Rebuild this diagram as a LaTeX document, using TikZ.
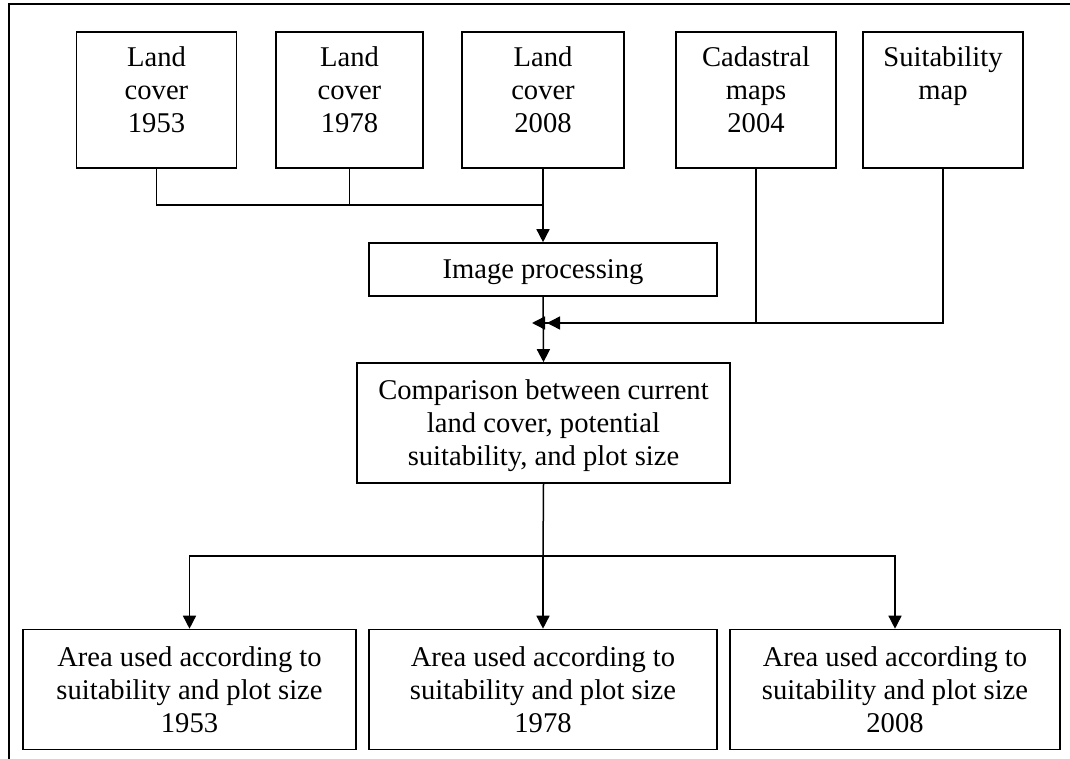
\documentclass[tikz,border=0pt]{standalone}
\usepackage{fontspec}
\setmainfont{Liberation Serif}
\usetikzlibrary{arrows.meta}
% line struts: uniform line boxes so the text sits at a fixed height in each box
\newcommand\midstrut{\rule[-7.5pt]{0pt}{33pt}}
\newcommand\lowstrut{\rule[-6.5pt]{0pt}{33pt}}
\newcommand\tsa{\rule[-12pt]{0pt}{33pt}}
\newcommand\tsb{\rule[-21pt]{0pt}{42pt}}
\begin{document}
\begin{tikzpicture}[x=1pt,y=-1pt,
  box/.style={draw, line width=1.6pt, inner sep=0pt, align=center,
    font=\fontsize{28.6}{33}\selectfont},
  link/.style={line width=1.5pt, line join=miter},
  arr/.style={line width=1.5pt, -{Triangle[length=13pt,width=13pt]}}]
\useasboundingbox (0,0) rectangle (1070,759);

% outer frame (top and left edges only)
\draw[line width=1.6pt] (1070,4) -- (9,4) -- (9,759);

% input data
\node[box, minimum width=160pt, minimum height=136pt] (lc1) at (156.5,100)
  {\tsa Land\\\tsa cover\\\tsb 1953};
\node[box, minimum width=147pt, minimum height=136pt] (lc2) at (349.5,100)
  {\tsa Land\\\tsa cover\\\tsb 1978};
\node[box, minimum width=162pt, minimum height=136pt] (lc3) at (543,100)
  {\tsa Land\\\tsa cover\\\tsb 2008};
\node[box, minimum width=160pt, minimum height=136pt] (cad) at (756,100)
  {\tsa Cadastral\\\tsa maps\\\tsb 2004};
\node[box, minimum width=160pt, minimum height=136pt] (suit) at (943,100)
  {\tsa Suitability\\\tsa map\\\tsb};

% processing steps
\node[box, minimum width=348pt, minimum height=53pt] (ip) at (543,269.5)
  {\midstrut Image processing};
\node[box, minimum width=373pt, minimum height=120pt] (cmp) at (543.5,423)
  {\midstrut Comparison between current\\\midstrut land cover, potential\\\midstrut suitability, and plot size};

% results
\node[box, minimum width=333pt, minimum height=120pt] (r1) at (189.5,689.5)
  {\lowstrut Area used according to\\\lowstrut suitability and plot size\\\lowstrut 1953};
\node[box, minimum width=348pt, minimum height=120pt] (r2) at (543,689.5)
  {\lowstrut Area used according to\\\lowstrut suitability and plot size\\\lowstrut 1978};
\node[box, minimum width=330pt, minimum height=120pt] (r3) at (895,689.5)
  {\lowstrut Area used according to\\\lowstrut suitability and plot size\\\lowstrut 2008};

% junction points
\coordinate (jn) at (543,205);
\coordinate (j1) at (547,323);
\coordinate (j2) at (532,323);
\coordinate (sp) at (543,556);

% land cover maps into image processing
\draw[link] (lc1.south) |- (jn);
\draw[link] (lc2.south) -- (lc2.south |- jn);
\draw[arr] (lc3.south) -- (ip.north);

% image processing, cadastre and suitability into the comparison
\draw[arr] (ip.south) -- (cmp.north);
\draw[arr] (cad.south) |- (j1);
\draw[arr] (suit.south) |- (j2);

% comparison out to the three results
\draw[link] (cmp.south) -- (sp);
\draw[arr] (sp) -| (r1.north);
\draw[arr] (sp) -- (r2.north);
\draw[arr] (sp) -| (r3.north);
\end{tikzpicture}
\end{document}
